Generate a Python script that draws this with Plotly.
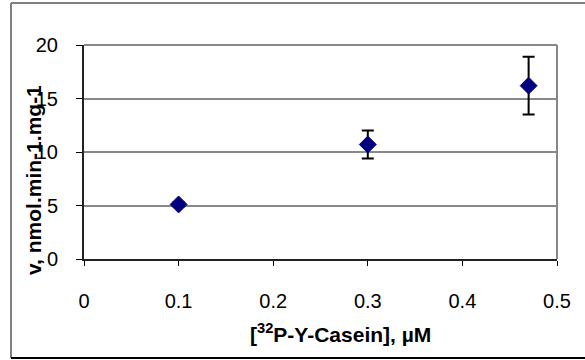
import plotly.graph_objects as go

# Data
casein_uM = [0.1, 0.3, 0.47]
velocity = [5.1, 10.7, 16.2]
velocity_err = [0.2, 1.3, 2.7]

x_ticks = [0, 0.1, 0.2, 0.3, 0.4, 0.5]
x_tick_labels = ["0", "0.1", "0.2", "0.3", "0.4", "0.5"]
y_ticks = [0, 5, 10, 15, 20]
y_tick_labels = ["0", "5", "10", "15", "20"]

W, H = 585, 360
ML, MR, MT, MB = 84, 28, 45, 101
pw, ph = W - ML - MR, H - MT - MB

def px_to_paper_x(px):
    return (px - ML) / pw

def py_to_paper_y(py):
    return (H - MB - py) / ph

fig = go.Figure()
fig.add_trace(go.Scatter(
    x=casein_uM, y=velocity, mode="markers",
    marker=dict(symbol="diamond", size=13, color="#000080",
                line=dict(color="#000080", width=1)),
    error_y=dict(type="data", array=velocity_err, visible=True,
                 color="black", thickness=2, width=6),
    showlegend=False,
))

font = "Liberation Sans, Arial, sans-serif"
fig.update_layout(
    width=W, height=H,
    margin=dict(l=ML, r=MR, t=MT, b=MB),
    paper_bgcolor="white", plot_bgcolor="white",
    font=dict(family=font, color="black", size=20),
    xaxis=dict(range=[0, 0.5], tickvals=x_ticks, ticktext=x_tick_labels,
               showgrid=False, zeroline=False,
               showline=True, linecolor="#222", linewidth=2,
               ticks="outside", ticklen=5, tickwidth=1, tickcolor="black",
               ticklabelstandoff=18,
               tickfont=dict(size=20, family=font)),
    yaxis=dict(range=[0, 20], tickvals=y_ticks, ticktext=y_tick_labels,
               showgrid=True, gridcolor="#888888", gridwidth=2,
               zeroline=False,
               showline=True, linecolor="#222", linewidth=2,
               ticks="outside", ticklen=6, tickwidth=1, tickcolor="black",
               ticklabelstandoff=14,
               tickfont=dict(size=20, family=font)),
    shapes=[
        # top/right plot border (gray)
        dict(type="line", xref="paper", yref="paper", x0=0, x1=1, y0=1, y1=1,
             line=dict(color="#888888", width=2)),
        dict(type="line", xref="paper", yref="paper", x0=1, x1=1, y0=0, y1=1,
             line=dict(color="#888888", width=2)),
        # outer chart frame
        dict(type="line", xref="paper", yref="paper",
             x0=px_to_paper_x(11), x1=px_to_paper_x(11),
             y0=py_to_paper_y(3), y1=py_to_paper_y(358),
             line=dict(color="#808080", width=2)),
        dict(type="line", xref="paper", yref="paper",
             x0=px_to_paper_x(11), x1=px_to_paper_x(600),
             y0=py_to_paper_y(3), y1=py_to_paper_y(3),
             line=dict(color="#808080", width=2)),
        dict(type="line", xref="paper", yref="paper",
             x0=px_to_paper_x(11), x1=px_to_paper_x(600),
             y0=py_to_paper_y(358), y1=py_to_paper_y(358),
             line=dict(color="black", width=2)),
    ],
    annotations=[
        dict(text="<b>[<sup>32</sup>P-Y-Casein], µM</b>", xref="paper", yref="paper",
             x=px_to_paper_x(340), y=py_to_paper_y(333),
             xanchor="center", yanchor="middle", showarrow=False,
             font=dict(size=21, family=font)),
        dict(text="<b>v, nmol.min-1.mg-1</b>", xref="paper", yref="paper",
             x=px_to_paper_x(33), y=py_to_paper_y(180), textangle=-90,
             xanchor="center", yanchor="middle", showarrow=False,
             font=dict(size=21, family=font)),
    ],
)

fig.write_html("out.html")
